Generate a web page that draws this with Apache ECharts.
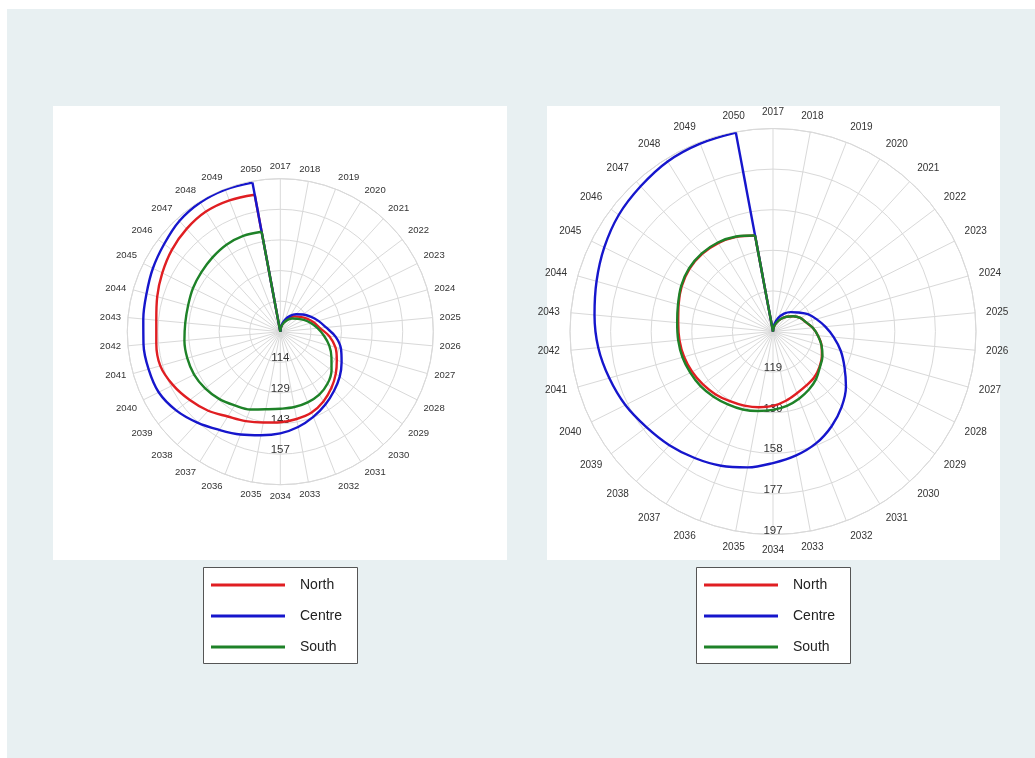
<!DOCTYPE html>
<html>
<head>
<meta charset="utf-8">
<script src="https://cdn.jsdelivr.net/npm/echarts@6/dist/echarts.min.js"></script>
<style>
html, body { margin: 0; padding: 0; background: #fff; }
#chart { width: 1035px; height: 758px; }
</style>
</head>
<body>
<div id="chart"></div>
<script>
// tick labels round the circle
const years = ['2017', '2018', '2019', '2020', '2021', '2022', '2023', '2024', '2025', '2026',
    '2027', '2028', '2029', '2030', '2031', '2032', '2033', '2034', '2035', '2036',
    '2037', '2038', '2039', '2040', '2041', '2042', '2043', '2044', '2045', '2046',
    '2047', '2048', '2049', '2050']
const regions = ['North', 'Centre', 'South']

// left panel
const northA = [100, 102.5, 105, 107.5, 109.7, 111.5, 113.8, 116.2, 118.6, 123,
    126.8, 129.5, 132.5, 135.5, 138.3, 140.5, 141.5, 142.3, 143.2, 144.8,
    146.6, 150, 153, 156, 158.3, 158.2, 158.2, 159.8, 161.6, 163.5,
    165, 166, 165.8, 165.1]
const centreA = [100, 103, 106, 108.7, 111, 113.3, 115.8, 118.5, 121.5, 126,
    129.5, 132, 134.8, 137.3, 140, 142.7, 145.3, 147.5, 149.2, 151.5,
    154, 157.5, 161, 163.5, 164, 164.2, 164.3, 165, 166.5, 168,
    170, 171, 171.2, 170.9]
const southA = [100, 102.3, 104.5, 106.5, 108.3, 110, 112.3, 114.8, 117.5, 120.5,
    123.8, 126.7, 130, 132.8, 134.6, 135.4, 135.8, 136, 136.9, 139,
    140.5, 142.5, 144, 145, 145.2, 145, 144.6, 144.8, 145.6, 146.2,
    147, 147.8, 148, 147.5]

// right panel
const northB = [100, 102.2, 104.5, 107, 109.5, 112, 114.5, 116.2, 119, 121.5,
    124, 126, 127.8, 129.3, 130.2, 131.5, 133.5, 135.4, 136.7, 137.8,
    139, 140.5, 141.8, 143, 144, 144.7, 145.3, 146.7, 148.5, 149.7,
    150, 149.5, 148.3, 146.5]
const centreB = [100, 103.5, 107, 110, 112.5, 115, 118.5, 121.5, 125, 129,
    133.5, 138, 143.5, 148.5, 153, 157, 160, 162.6, 165.8, 168.5,
    170.8, 173.2, 175.5, 178.5, 181, 183.5, 185.3, 187.3, 189.7, 192,
    193.5, 195.2, 195.9, 196.3]
const southB = [100, 102.2, 104.5, 107, 109.5, 112, 114.5, 116.3, 119, 121.5,
    124, 126.3, 128, 130.5, 132.5, 134.3, 136, 137.3, 138.5, 139.8,
    140.8, 142, 143.2, 144, 144.8, 145.3, 145.8, 147, 148.8, 150,
    150.3, 149.8, 148.5, 146.5]

// radial scales: [min, max, step]
const scaleA = [100, 171.5, 14.3]
const scaleB = [100, 196.6, 19.32]

const colors = { North: '#e01e22', Centre: '#1616cc', South: '#1e8228' }
const font = 'Liberation Sans, Arial, sans-serif'
const gridColor = '#d9d9d9'

// [radius, angle] pairs
const spiral = vals => vals.map((v, i) => [v, i])
// straight segment from the last year back to the first (radar-style close)
const closing = vals => [[vals[vals.length - 1], vals.length - 1], [vals[0], vals.length]]

const chart = echarts.init(document.getElementById('chart'), null, { renderer: 'canvas' })

const polarAt = (cx, cy, r) => ({ center: [cx, cy], radius: r })
const panels = [
    { polar: polarAt(280.3, 331.7, 153), scale: scaleA, labelSize: 9.5, margin: 7, showMax: false,
      data: [northA, centreA, southA], legendLeft: 211 },
    { polar: polarAt(773, 331.5, 203), scale: scaleB, labelSize: 10, margin: 11, showMax: true,
      data: [northB, centreB, southB], legendLeft: 704 },
]

const polar = []
const angleAxis = []
const radiusAxis = []
const series = []
const legend = []

panels.forEach((p, k) => {
    const [min, max, step] = p.scale
    // grid polar: spokes, rings, year labels
    polar.push(p.polar)
    angleAxis.push({
        polarIndex: k,
        type: 'value',
        min: 0,
        max: years.length,
        interval: 1,
        startAngle: 90,
        clockwise: true,
        axisLine: { show: true, lineStyle: { color: gridColor, width: 1 } },
        axisTick: { show: false },
        splitLine: { show: true, lineStyle: { color: gridColor, width: 1 } },
        axisLabel: {
            margin: p.margin,
            fontSize: p.labelSize,
            fontFamily: font,
            color: '#333',
            formatter: v => years[v] || '',
        },
    })
    radiusAxis.push({
        polarIndex: k,
        type: 'value',
        min, max, interval: step,
        axisLine: { show: false },
        axisTick: { show: false },
        axisLabel: { show: false },
        splitLine: { show: true, lineStyle: { color: gridColor, width: 1 } },
    })
    regions.forEach((name, j) => {
        const style = { width: 2.4, color: colors[name] }
        series.push({
            type: 'line',
            name,
            coordinateSystem: 'polar',
            polarIndex: k,
            symbol: 'none',
            smooth: 0.35,
            lineStyle: style,
            itemStyle: { color: colors[name] },
            data: spiral(p.data[j]),
            z: 3,
        })
        series.push({
            type: 'line',
            name,
            coordinateSystem: 'polar',
            polarIndex: k,
            symbol: 'none',
            lineStyle: style,
            itemStyle: { color: colors[name] },
            data: closing(p.data[j]),
            z: 3,
        })
    })
    legend.push({
        data: regions,
        orient: 'vertical',
        left: p.legendLeft,
        top: 578,
        padding: 0,
        itemWidth: 74,
        itemHeight: 3,
        itemGap: 17,
        icon: 'rect',
        selectedMode: false,
        textStyle: { fontSize: 14, fontFamily: font, color: '#222', padding: [0, 0, 0, 10] },
    })
})

// second polar per panel, only for the value labels running down
panels.forEach((p, k) => {
    const [min, max, step] = p.scale
    polar.push(p.polar)
    angleAxis.push({
        polarIndex: 2 + k,
        type: 'value', min: 0, max: years.length,
        startAngle: 270,
        show: false,
    })
    radiusAxis.push({
        polarIndex: 2 + k,
        type: 'value',
        min, max, interval: step,
        z: 1,
        axisLine: { show: false },
        axisTick: { show: false },
        splitLine: { show: false },
        axisLabel: {
            margin: 0,
            align: 'center',
            verticalAlign: 'bottom',
            lineHeight: 8,
            fontSize: 11.5,
            fontFamily: font,
            color: '#333',
            showMinLabel: false,
            showMaxLabel: p.showMax,
            formatter: v => (v <= min ? '' : String(Math.round(v))),
        },
    })
})

chart.setOption({
    animation: false,
    backgroundColor: '#fff',
    graphic: [
        { type: 'rect', z: -10, shape: { x: 7, y: 9, width: 1028, height: 749 }, style: { fill: '#e8f0f2' } },
        { type: 'rect', z: -9, shape: { x: 53, y: 106, width: 454, height: 454 }, style: { fill: '#fff' } },
        { type: 'rect', z: -9, shape: { x: 547, y: 106, width: 453, height: 454 }, style: { fill: '#fff' } },
        { type: 'rect', z: -9, shape: { x: 203.5, y: 567.5, width: 154, height: 96 }, style: { fill: '#fff', stroke: '#555', lineWidth: 1 } },
        { type: 'rect', z: -9, shape: { x: 696.5, y: 567.5, width: 154, height: 96 }, style: { fill: '#fff', stroke: '#555', lineWidth: 1 } },
    ],
    polar,
    angleAxis,
    radiusAxis,
    legend,
    series,
})
</script>
</body>
</html>
